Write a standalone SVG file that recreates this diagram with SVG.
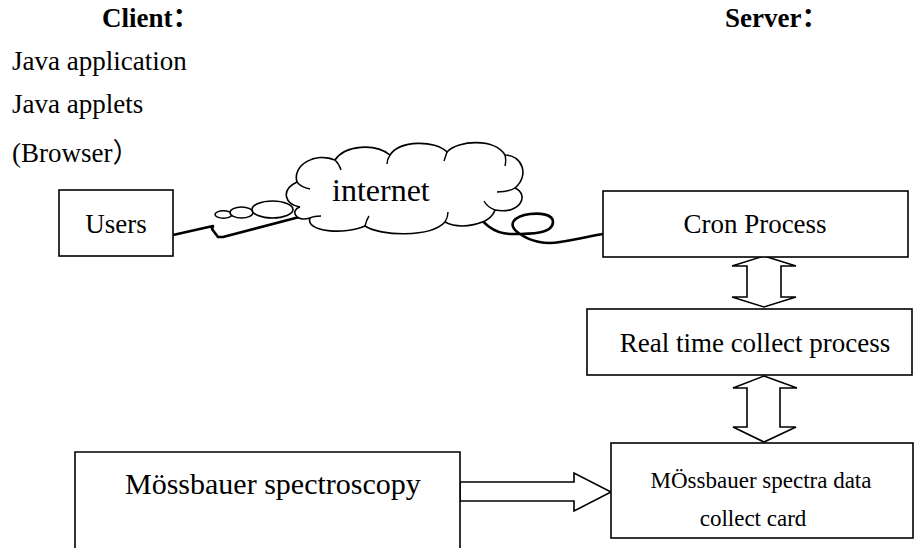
<svg xmlns="http://www.w3.org/2000/svg" width="916" height="548" viewBox="0 0 916 548">
<style>
text{font-family:"Liberation Serif","Noto Sans CJK SC",serif;fill:#000}
.h{font-weight:bold;font-size:27px}
.t{font-size:27px}
.box{fill:#fff;stroke:#000;stroke-width:1.6}
.wire{fill:none;stroke:#000;stroke-width:2.6;stroke-linejoin:round;stroke-linecap:round}
.arr{fill:#fff;stroke:#000;stroke-width:1.6;stroke-linejoin:miter}
.inner{fill:none;stroke:#000;stroke-width:1.4}
</style>
<rect width="916" height="548" fill="#fff"/>
<g id="labels">
<text class="h" x="102" y="27">Client：</text>
<text class="h" x="725" y="27">Server：</text>
<text class="t" x="12" y="70">Java application</text>
<text class="t" x="12" y="113">Java applets</text>
<text class="t" x="12" y="162">(Browser）</text>
</g>
<g id="connectors">
<path class="wire" d="M173,235 L213,226 L212,229 L218,237 L223,237 L307,215"/>
<path class="wire" d="M473,208 C482,222 492,234 512,234 C530,234 553,234 553,222 C553,214 540,213 530,214 C515,216 505,224 520,234 C530,241 545,245 560,242 C575,240 590,236 603,234"/>
<polygon class="arr" points="764,256 796,266 781,266 781,297 796,297 764,307 732,297 747,297 747,266 732,266"/>
<polygon class="arr" points="764,376 797,388 780,388 780,427 796,427 764,442 733,427 747,427 747,388 733,388"/>
<polygon class="arr" points="460,482 574,482 574,473 611,492 574,511 574,501 460,501"/>
</g>
<g id="cloud">
<ellipse cx="223.5" cy="214.5" rx="8.5" ry="3.7" class="box" stroke-width="1.3"/>
<ellipse cx="241.5" cy="212.5" rx="11.5" ry="5.5" class="box" stroke-width="1.3"/>
<ellipse cx="272.5" cy="209.5" rx="20.5" ry="8.5" class="box" stroke-width="1.3"/>
<path class="box" stroke-width="1.5" d="M300,207 C285,205 280,190 297,182 C292,165 315,152 335,160 C345,145 375,143 390,155 C400,140 435,140 447,152 C458,140 495,138 505,155 C522,155 530,175 515,188 C530,195 520,215 495,210 C490,225 460,230 445,222 C430,238 380,236 365,226 C345,235 305,232 310,218 C295,222 290,210 300,207 Z"/>
<path class="inner" d="M297,182 C300,186 305,188 310,189 M335,160 C338,163 340,166 341,170 M390,155 C388,158 387,161 387,164 M447,152 C446,155 445,158 444,161 M505,155 C506,159 506,162 505,166 M515,188 C510,191 503,192 497,192 M495,210 C490,208 486,205 484,201 M445,222 C447,219 448,216 448,212 M365,226 C366,222 367,219 369,216 M310,218 C314,216 318,216 321,216"/>
<text x="332" y="201" style="font-size:32px">internet</text>
</g>
<g id="users">
<rect class="box" x="59" y="190" width="114" height="66"/>
<text class="t" x="116" y="233" text-anchor="middle">Users</text>
</g>
<g id="cron">
<rect class="box" x="603" y="191" width="305" height="66"/>
<text class="t" x="755" y="233" text-anchor="middle">Cron Process</text>
</g>
<g id="realtime">
<rect class="box" x="587" y="309" width="325" height="66"/>
<text class="t" x="755" y="352" text-anchor="middle">Real time collect process</text>
</g>
<g id="card">
<rect class="box" x="611" y="443" width="302" height="95"/>
<text x="761" y="488" text-anchor="middle" style="font-size:23px">MÖssbauer spectra data</text>
<text x="753" y="526" text-anchor="middle" style="font-size:23px">collect card</text>
</g>
<g id="spectroscopy">
<path class="box" d="M75,549 L75,452 L460,452 L460,549"/>
<text x="125" y="494" style="font-size:30px">Mössbauer spectroscopy</text>
</g>
</svg>
